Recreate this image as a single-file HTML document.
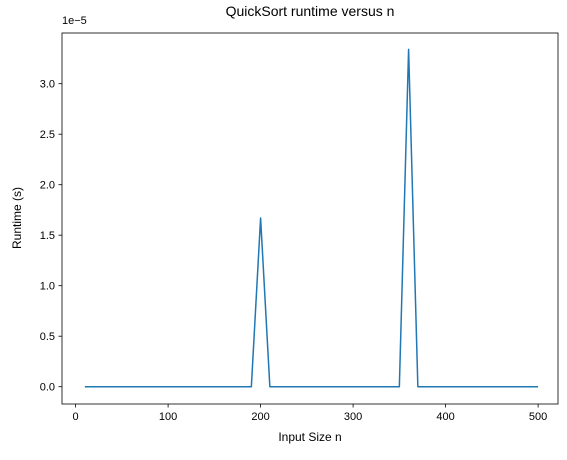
<!DOCTYPE html>
<html><head><meta charset="utf-8"><style>
body{margin:0;background:#fff}
svg text{font-family:"Liberation Sans","DejaVu Sans",sans-serif;fill:#000}
</style></head><body>
<svg id="chart" width="567" height="455" xmlns="http://www.w3.org/2000/svg">
<text x="310" y="16" font-size="14" text-anchor="middle">QuickSort runtime versus n</text>
<text x="62" y="24" font-size="11">1e−5</text>
<rect x="62" y="33" width="496" height="371" fill="none" stroke="#000" stroke-width="0.8"/>
<g id="xt"></g><g id="yt"></g>
<polyline id="line" fill="none" stroke="#1f77b4" stroke-width="1.5" stroke-linejoin="round"/>
<text x="310" y="441" font-size="12" text-anchor="middle">Input Size n</text>
<text transform="translate(21,218) rotate(-90)" font-size="12" text-anchor="middle">Runtime (s)</text>
</svg>
<script>
const sizes=[];for(let n=10;n<=500;n+=10)sizes.push(n);
const runtimes=sizes.map(()=>0);
const spikeSizes=[200,360];
const spikeValues=[1.67,3.34];
spikeSizes.forEach((s,i)=>{runtimes[sizes.indexOf(s)]=spikeValues[i];});
const xTicks=[0,100,200,300,400,500];
const yTicks=[0,0.5,1.0,1.5,2.0,2.5,3.0];
const X=v=>75.6+v*0.925;
const Y=v=>386.7-v*101;
const NS="http://www.w3.org/2000/svg";
const xt=document.getElementById('xt'),yt=document.getElementById('yt');
xTicks.forEach(t=>{
 const l=document.createElementNS(NS,'line');
 
 
 l.setAttribute('x1',X(t));l.setAttribute('x2',X(t));l.setAttribute('y1',404);l.setAttribute('y2',407.5);l.setAttribute('stroke','#000');l.setAttribute('stroke-width','0.8');xt.appendChild(l);
 const tx=document.createElementNS(NS,'text');
 
 
 tx.setAttribute('x',X(t));tx.setAttribute('y',420);tx.setAttribute('font-size','11');tx.setAttribute('text-anchor','middle');tx.textContent=t;xt.appendChild(tx);
});
yTicks.forEach(t=>{
 const l=document.createElementNS(NS,'line');
 
 
 l.setAttribute('x1',58.5);l.setAttribute('x2',62);l.setAttribute('y1',Y(t));l.setAttribute('y2',Y(t));l.setAttribute('stroke','#000');l.setAttribute('stroke-width','0.8');yt.appendChild(l);
 const tx=document.createElementNS(NS,'text');
 
 
 tx.setAttribute('x',55);tx.setAttribute('y',Y(t)+4);tx.setAttribute('font-size','11');tx.setAttribute('text-anchor','end');tx.textContent=t.toFixed(1);yt.appendChild(tx);
});
document.getElementById('line').setAttribute('points',sizes.map((s,i)=>X(s)+','+Y(runtimes[i])).join(' '));
</script>
</body></html>
